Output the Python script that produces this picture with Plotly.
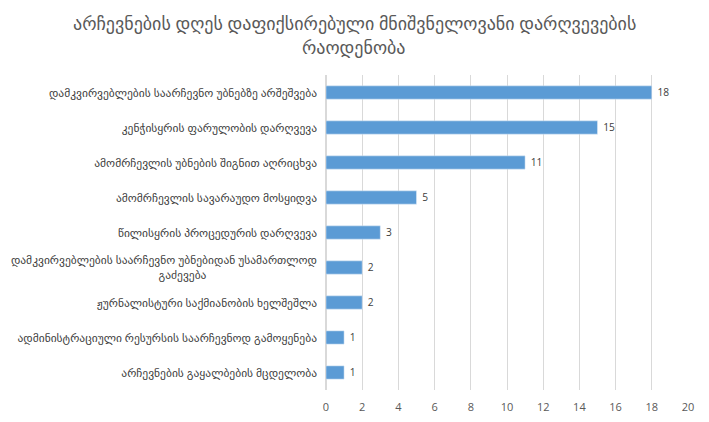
import plotly.graph_objects as go

categories = [
    "დამკვირვებლების საარჩევნო უბნებზე არშეშვება",
    "კენჭისყრის ფარულობის დარღვევა",
    "ამომრჩევლის უბნების შიგნით აღრიცხვა",
    "ამომრჩევლის სავარაუდო მოსყიდვა",
    "წილისყრის პროცედურის დარღვევა",
    "დამკვირვებლების საარჩევნო უბნებიდან უსამართლოდ<br>გაძევება",
    "ჟურნალისტური საქმიანობის ხელშეშლა",
    "ადმინისტრაციული რესურსის საარჩევნოდ გამოყენება",
    "არჩევნების გაყალბების მცდელობა",
]
values = [18, 15, 11, 5, 3, 2, 2, 1, 1]
x_ticks = [0, 2, 4, 6, 8, 10, 12, 14, 16, 18, 20]

title_lines = ["არჩევნების დღეს დაფიქსირებული მნიშვნელოვანი დარღვევების", "რაოდენობა"]

font_family = "Open Sans, DejaVu Sans, sans-serif"

# wrapped labels are centred in the reference; pad the short line so it looks that way
tick_text = [c + "\u00a0" * 37 if c.endswith("გაძევება") else c for c in categories]

fig = go.Figure()
fig.add_trace(go.Bar(
    y=categories, x=values, orientation="h",
    marker_color="#5b9bd5",
    text=values, texttemplate="\u00a0%{text}", textposition="outside",
    textfont=dict(size=11.5, color="#404040"),
    cliponaxis=False,
))

# the page body keeps its default 8px margin, so the figure starts at (8, 8)
off = 8
W, H = 709 - off, 422 - off
ml, mr, mt, mb = 326 - off, 21, 75 - off, 32
pw, ph = W - ml - mr, H - mt - mb


def py(ypx):
    # pixel row of the page -> paper y
    return (H - mb - (ypx - off)) / ph


def px(xpx):
    return (xpx - off - ml) / pw


fig.update_layout(
    width=W, height=H,
    margin=dict(l=ml, r=mr, t=mt, b=mb, autoexpand=False),
    paper_bgcolor="white", plot_bgcolor="white",
    font=dict(family=font_family, color="#595959", size=10),
    bargap=0.62,
    showlegend=False,
    annotations=[
        dict(text=t, xref="paper", yref="paper", x=px(354), y=py(yy),
             xanchor="center", yanchor="middle", showarrow=False,
             font=dict(size=18, color="#595959"))
        for t, yy in zip(title_lines, [23, 47])
    ],
)
fig.update_xaxes(range=[0, 20], tickvals=x_ticks, showgrid=True, gridcolor="#d9d9d9",
                 zeroline=True, zerolinecolor="#d9d9d9", showline=False,
                 tickfont=dict(size=11, color="#595959"), ticks="", ticklen=0,
                 ticklabelstandoff=9, automargin=False)
fig.update_yaxes(autorange="reversed", showgrid=False, ticks="", ticklabelstandoff=8,
                 tickvals=categories, ticktext=tick_text,
                 tickfont=dict(size=11.5, color="#404040"), automargin=False)

fig.write_html("out.html")
